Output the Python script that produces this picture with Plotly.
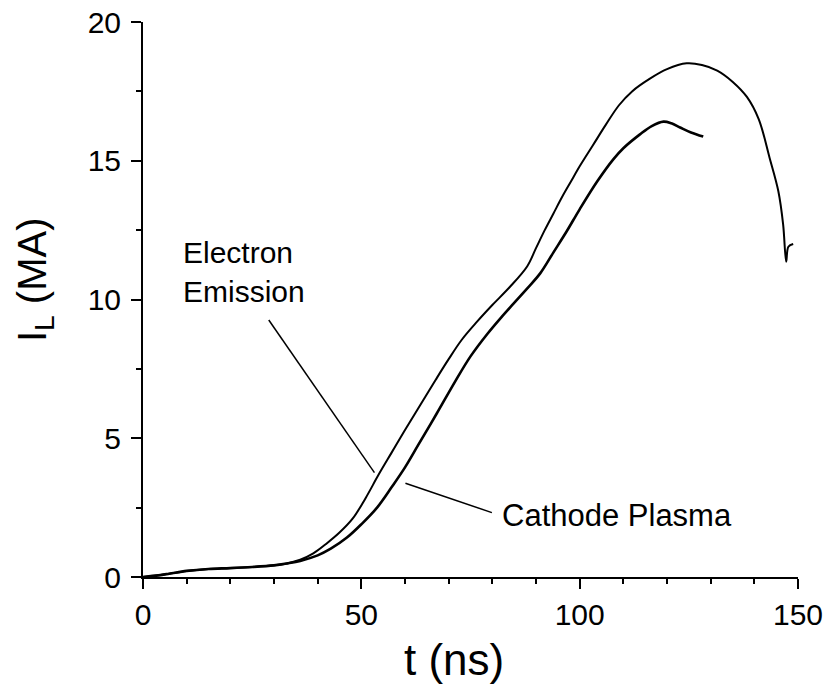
import plotly.graph_objects as go

# Load-current traces, t in ns, I_L in MA
t_emission = [0, 3, 6, 10, 15, 20, 25, 30, 33, 36, 39, 42, 45, 48, 51, 54, 57,
              60, 63.5, 67, 70, 73, 76.5, 80, 84, 88, 90, 92, 94, 96, 98, 100,
              103, 106, 109, 112, 116, 120, 124.5, 128, 131.5, 135, 138.3, 141,
              143.5, 145.5, 146.6, 147.3, 147.8, 148.9]
i_emission = [0, 0.05, 0.12, 0.22, 0.29, 0.32, 0.36, 0.42, 0.49, 0.62, 0.85,
              1.2, 1.6, 2.1, 2.85, 3.7, 4.5, 5.3, 6.2, 7.1, 7.85, 8.55, 9.2,
              9.8, 10.45, 11.2, 11.85, 12.5, 13.1, 13.7, 14.25, 14.8, 15.55,
              16.3, 17.0, 17.5, 17.95, 18.3, 18.51, 18.45, 18.25, 17.85, 17.3,
              16.5, 15.1, 13.9, 12.7, 11.36, 11.9, 12.0]

t_plasma = [0, 3, 6, 10, 15, 20, 25, 30, 33, 36, 40, 43, 46.7, 50, 53.6, 57,
            60, 63, 67.3, 71.5, 75, 78.8, 82, 84.9, 88, 91, 94, 97, 100, 104,
            107.7, 110, 113.8, 116.5, 119.2, 121, 123, 125.5, 128.3]
i_plasma = [0, 0.05, 0.12, 0.22, 0.29, 0.32, 0.36, 0.42, 0.49, 0.58, 0.78,
            1.02, 1.42, 1.9, 2.5, 3.25, 3.95, 4.75, 5.9, 7.05, 7.95, 8.75,
            9.35, 9.86, 10.4, 10.95, 11.7, 12.45, 13.25, 14.25, 15.05, 15.45,
            15.95, 16.25, 16.41, 16.35, 16.2, 16.02, 15.87]

# Callout leader lines: (t, I) endpoints
emission_leader = ([28.8, 53.0], [9.26, 3.76])
plasma_leader = ([60.1, 79.9], [3.38, 2.32])

FONT = "Liberation Sans, Arial, sans-serif"

fig = go.Figure()
fig.add_trace(go.Scatter(x=t_emission, y=i_emission, mode="lines",
                         line=dict(color="black", width=2, shape="spline", smoothing=1.0),
                         showlegend=False))
fig.add_trace(go.Scatter(x=t_plasma, y=i_plasma, mode="lines",
                         line=dict(color="black", width=2.6, shape="spline", smoothing=1.0),
                         showlegend=False))
for lx, ly in (emission_leader, plasma_leader):
    fig.add_trace(go.Scatter(x=lx, y=ly, mode="lines",
                             line=dict(color="black", width=1.5),
                             showlegend=False, hoverinfo="skip"))

fig.add_annotation(x=8.7, y=11.0, xref="x", yref="y", text="Electron<br>Emission",
                   showarrow=False, xanchor="left", yanchor="middle", align="left",
                   font=dict(family=FONT, size=30, color="black"))
fig.add_annotation(x=81.7, y=2.2, xref="x", yref="y", text="Cathode Plasma",
                   showarrow=False, xanchor="left", yanchor="middle",
                   font=dict(family=FONT, size=31, color="black"))

# Axis titles
fig.add_annotation(x=-0.165, y=0.535, xref="paper", yref="paper",
                   text="I<sub>L</sub> (MA)", textangle=-90, showarrow=False,
                   xanchor="center", yanchor="middle",
                   font=dict(family=FONT, size=40, color="black"))
fig.add_annotation(x=0.475, y=-0.148, xref="paper", yref="paper",
                   text="t (ns)", showarrow=False, xanchor="center", yanchor="middle",
                   font=dict(family=FONT, size=44, color="black"))

axis_common = dict(showline=True, linecolor="black", linewidth=2, ticks="outside",
                   ticklen=10, tickwidth=2, tickcolor="black", showgrid=False,
                   zeroline=False, tickfont=dict(family=FONT, size=30, color="black"),
                   mirror=False)

fig.update_xaxes(range=[0, 150], dtick=50, tick0=0,
                 minor=dict(dtick=10, ticks="outside", ticklen=5, tickwidth=2,
                            tickcolor="black", showgrid=False),
                 **axis_common)
fig.update_yaxes(range=[0, 20], dtick=5, tick0=0, ticklabelstandoff=4,
                 minor=dict(dtick=2.5, ticks="outside", ticklen=5, tickwidth=2,
                            tickcolor="black", showgrid=False),
                 **axis_common)

fig.update_layout(width=827, height=689, plot_bgcolor="white", paper_bgcolor="white",
                  margin=dict(l=143, r=29, t=22, b=112, autoexpand=False))

fig.write_html("out.html")
